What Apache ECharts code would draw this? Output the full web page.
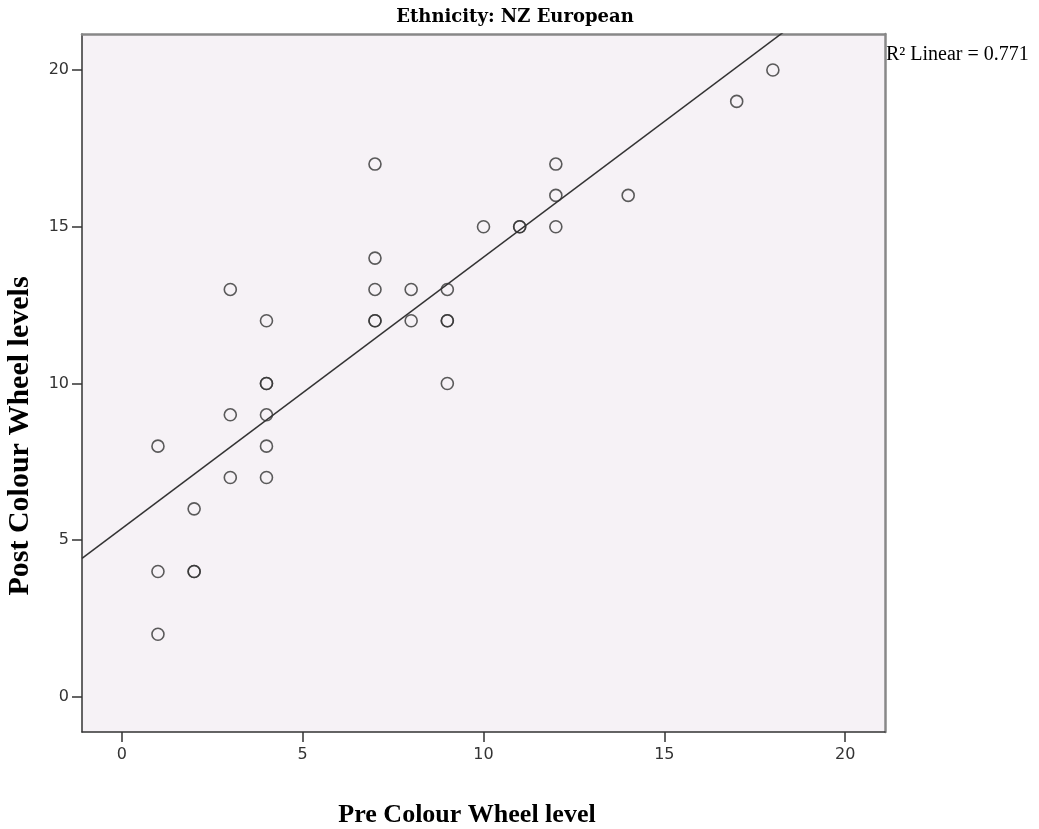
<!DOCTYPE html>
<html>
<head>
<meta charset="utf-8">
<script src="https://cdn.jsdelivr.net/npm/echarts@6/dist/echarts.min.js"></script>
<style>
html,body{margin:0;padding:0;background:#fff;}
#chart{width:1039px;height:829px;}
</style>
</head>
<body>
<div id="chart"></div>
<script>
// Data (duplicates listed twice where circles overlap)
var preLevel  = [1,1,1, 2,2,2, 3,3,3, 4,4,4,4,4,4, 7,7,7,7,7, 8,8, 9,9,9,9, 10, 11,11, 12,12,12, 14, 17, 18];
var postLevel = [8,4,2, 6,4,4, 13,9,7, 12,10,10,9,8,7, 17,14,13,12,12, 13,12, 13,12,12,10, 15, 15,15, 17,16,15, 16, 19, 20];
var xTicks = [0, 5, 10, 15, 20];
var yTicks = [0, 5, 10, 15, 20];
var chartTitle = 'Ethnicity: NZ European';
var xName = 'Pre Colour Wheel level';
var yName = 'Post Colour Wheel levels';
var r2Label = 'R² Linear = 0.771';

var xMin = -1.1, xMax = 21.1, yMin = -1.12, yMax = 21.15;

var points = preLevel.map(function(x, i){ return [x, postLevel[i]]; });

// least-squares fit line from the data
var n = preLevel.length, sx = 0, sy = 0, sxx = 0, sxy = 0;
for (var i = 0; i < n; i++) { sx += preLevel[i]; sy += postLevel[i]; sxx += preLevel[i]*preLevel[i]; sxy += preLevel[i]*postLevel[i]; }
var slope = (n*sxy - sx*sy) / (n*sxx - sx*sx);
var intercept = (sy - slope*sx) / n;
var fitLine = [[xMin, intercept + slope*xMin], [xMax, intercept + slope*xMax]];

var chart = echarts.init(document.getElementById('chart'), null, {renderer:'canvas'});
var tickLabelStyle = {color:'#333', fontFamily:'DejaVu Sans', fontSize:16};
chart.setOption({
  animation:false,
  backgroundColor:'#ffffff',
  grid:{left:82, right:154, top:34, bottom:97, show:true, backgroundColor:'#f6f2f6', borderWidth:0},
  xAxis:[{
    type:'value', min:xMin, max:xMax, position:'bottom',
    axisLine:{show:true, onZero:false, lineStyle:{color:'#333', width:1.5}},
    axisTick:{show:true, inside:false, length:10, customValues:xTicks, lineStyle:{color:'#333', width:1.5}},
    axisLabel:Object.assign({customValues:xTicks, margin:15}, tickLabelStyle),
    splitLine:{show:false}
  },{
    type:'value', min:xMin, max:xMax, position:'top',
    axisLine:{show:true, onZero:false, lineStyle:{color:'#888', width:2.5}},
    axisTick:{show:false}, axisLabel:{show:false}, splitLine:{show:false}
  }],
  yAxis:[{
    type:'value', min:yMin, max:yMax, position:'left',
    axisLine:{show:true, onZero:false, lineStyle:{color:'#333', width:1.5}},
    axisTick:{show:true, inside:false, length:10, customValues:yTicks, lineStyle:{color:'#333', width:1.5}},
    axisLabel:Object.assign({customValues:yTicks, margin:13}, tickLabelStyle),
    splitLine:{show:false}
  },{
    type:'value', min:yMin, max:yMax, position:'right',
    axisLine:{show:true, onZero:false, lineStyle:{color:'#888', width:2.5}},
    axisTick:{show:false}, axisLabel:{show:false}, splitLine:{show:false}
  }],
  series:[{
    type:'line', data:fitLine, clip:true, showSymbol:false, symbol:'none',
    lineStyle:{color:'#333', width:1.5}, silent:true, z:2
  },{
    type:'scatter', data:points, symbol:'circle', symbolSize:12,
    itemStyle:{color:'rgba(0,0,0,0)', borderColor:'#333', borderWidth:1.6}, z:3
  }],
  graphic:[
    {type:'text', x:515, y:17, style:{text:chartTitle, fill:'#000', font:'bold 18px "DejaVu Serif"', textAlign:'center', textVerticalAlign:'middle'}},
    {type:'text', x:467, y:815, style:{text:xName, fill:'#000', font:'bold 26px "Liberation Serif"', textAlign:'center', textVerticalAlign:'middle'}},
    {type:'text', x:20, y:436, rotation:Math.PI/2, style:{text:yName, fill:'#000', font:'bold 30px "Liberation Serif"', textAlign:'center', textVerticalAlign:'middle'}},
    {type:'text', x:886, y:55, style:{text:r2Label, fill:'#000', font:'20px "Liberation Serif"', textAlign:'left', textVerticalAlign:'middle'}}
  ]
});
</script>
</body>
</html>
